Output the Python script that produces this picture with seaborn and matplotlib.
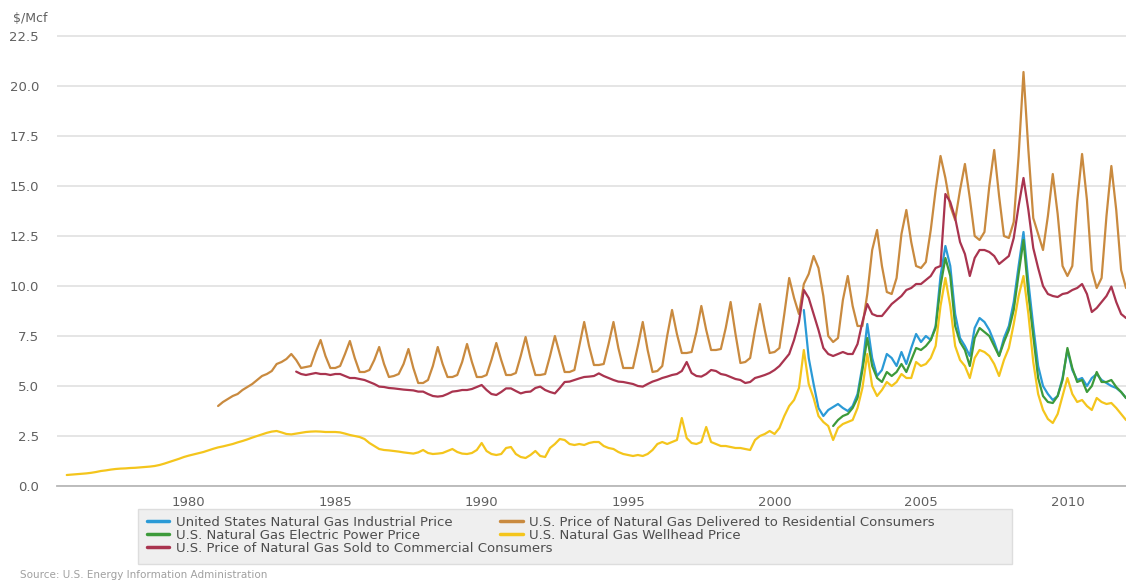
import numpy as np
import pandas as pd
import matplotlib
matplotlib.use("Agg")
import matplotlib.pyplot as plt
import seaborn as sns
from matplotlib.lines import Line2D
from matplotlib.patches import Rectangle

# prices in $/Mcf, one reading every two months (Jan, Mar, May, Jul, Sep, Nov)
industrial_start = 2001.0
industrial = [8.8, 6.4, 5.1, 3.9, 3.5, 3.8,
              3.95, 4.1, 3.9, 3.75, 4.0, 4.6,
              6.0, 8.1, 6.4, 5.5, 5.8, 6.6,
              6.4, 6.0, 6.7, 6.1, 6.9, 7.6,
              7.2, 7.5, 7.3, 8.0, 10.5, 12.0,
              11.0, 8.6, 7.4, 7.0, 6.5, 7.9,
              8.4, 8.2, 7.8, 7.2, 6.5, 7.4,
              8.0, 9.2, 11.0, 12.7, 10.2, 8.0,
              6.0, 5.0, 4.6, 4.3, 4.5, 5.4,
              6.8, 5.8, 5.3, 5.4, 5.0, 5.4,
              5.6, 5.3, 5.15, 5.0, 4.9, 4.7,
              4.4]

residential_start = 1981.0
residential = [4.0, 4.2, 4.35, 4.5, 4.6, 4.8,
               4.95, 5.1, 5.3, 5.5, 5.6, 5.75,
               6.1, 6.2, 6.35, 6.6, 6.3, 5.9,
               5.95, 6.0, 6.7, 7.3, 6.5, 5.9,
               5.9, 6.0, 6.6, 7.25, 6.4, 5.7,
               5.7, 5.8, 6.3, 6.95, 6.1, 5.45,
               5.5, 5.6, 6.1, 6.85, 5.9, 5.15,
               5.15, 5.3, 6.0, 6.95, 6.1, 5.45,
               5.45, 5.55, 6.2, 7.1, 6.2, 5.45,
               5.45, 5.55, 6.3, 7.15, 6.3, 5.55,
               5.55, 5.65, 6.5, 7.45, 6.4, 5.55,
               5.55, 5.6, 6.5, 7.5, 6.6, 5.7,
               5.7, 5.8, 7.0, 8.2, 7.0, 6.05,
               6.05, 6.1, 7.1, 8.2, 6.9, 5.9,
               5.9, 5.9, 7.0, 8.2, 6.8, 5.7,
               5.75, 6.0, 7.5, 8.8, 7.6, 6.65,
               6.65, 6.7, 7.7, 9.0, 7.8, 6.8,
               6.8, 6.85, 7.9, 9.2, 7.6, 6.15,
               6.2, 6.4, 7.8, 9.1, 7.8, 6.65,
               6.7, 6.9, 8.6, 10.4, 9.4, 8.6,
               10.1, 10.6, 11.5, 10.9, 9.5, 7.5,
               7.2, 7.4, 9.3, 10.5, 9.0, 8.0,
               8.0, 9.6, 11.8, 12.8, 11.0, 9.7,
               9.6, 10.4, 12.6, 13.8, 12.2, 11.0,
               10.9, 11.2, 12.8, 14.8, 16.5, 15.4,
               14.0, 13.3, 14.8, 16.1, 14.4, 12.5,
               12.3, 12.7, 15.0, 16.8, 14.5, 12.5,
               12.4, 13.2, 16.5, 20.7, 16.8, 13.4,
               12.6, 11.8, 13.5, 15.6, 13.6, 11.0,
               10.5, 11.0, 14.2, 16.6, 14.3, 10.8,
               9.9, 10.4, 13.5, 16.0, 13.8, 10.8,
               9.9]

electric_start = 2002.0
electric = [3.0, 3.3, 3.5, 3.6, 3.9, 4.4,
            5.8, 7.4, 6.0, 5.4, 5.2, 5.7,
            5.5, 5.7, 6.1, 5.7, 6.3, 6.9,
            6.8, 7.0, 7.3, 7.9, 10.0, 11.4,
            10.5, 8.0, 7.2, 6.8, 6.0, 7.4,
            7.9, 7.7, 7.5, 7.0, 6.5, 7.2,
            7.8, 8.8, 10.6, 12.3, 9.6, 7.5,
            5.4, 4.5, 4.2, 4.15, 4.5, 5.3,
            6.9, 5.9, 5.2, 5.3, 4.7, 5.0,
            5.7, 5.2, 5.2, 5.3, 4.95, 4.7,
            4.4]

wellhead_start = 1975 + 10 / 12
wellhead = [0.55,
            0.57, 0.59, 0.61, 0.63, 0.66, 0.7,
            0.75, 0.78, 0.82, 0.85, 0.87, 0.88,
            0.9, 0.91, 0.93, 0.95, 0.97, 1.0,
            1.05, 1.12, 1.2, 1.28, 1.36, 1.45,
            1.52, 1.58, 1.64, 1.7, 1.78, 1.86,
            1.93, 1.98, 2.04, 2.1, 2.18, 2.25,
            2.33, 2.42, 2.5, 2.58, 2.66, 2.72,
            2.75, 2.68, 2.6, 2.58, 2.62, 2.66,
            2.7, 2.72, 2.73, 2.72, 2.7, 2.7,
            2.7, 2.68, 2.62, 2.55, 2.5, 2.45,
            2.35, 2.15, 2.0, 1.85, 1.8, 1.78,
            1.75, 1.72, 1.68, 1.65, 1.62, 1.68,
            1.8, 1.65, 1.6, 1.62, 1.65, 1.75,
            1.85, 1.7, 1.62, 1.6, 1.65, 1.8,
            2.15, 1.75, 1.6, 1.55, 1.6, 1.9,
            1.95, 1.6, 1.45, 1.4, 1.55, 1.75,
            1.5, 1.45, 1.9, 2.1, 2.35, 2.3,
            2.1, 2.05, 2.1, 2.05, 2.15, 2.2,
            2.2, 2.0, 1.9, 1.85, 1.7, 1.6,
            1.55, 1.5, 1.55, 1.5, 1.6, 1.8,
            2.1, 2.2, 2.1, 2.2, 2.3, 3.4,
            2.4, 2.15, 2.1, 2.2, 2.95, 2.2,
            2.1, 2.0, 2.0, 1.95, 1.9, 1.9,
            1.85, 1.8, 2.3, 2.5, 2.6, 2.75,
            2.6, 2.9, 3.5, 4.0, 4.3, 4.9,
            6.8, 5.1, 4.4, 3.5, 3.2, 3.0,
            2.3, 2.9, 3.1, 3.2, 3.3, 3.9,
            4.9, 6.6, 5.0, 4.5, 4.8, 5.2,
            5.0, 5.2, 5.6, 5.4, 5.4, 6.2,
            6.0, 6.1, 6.4, 7.0, 9.0, 10.4,
            9.0, 7.0, 6.3, 6.0, 5.4, 6.4,
            6.8, 6.7, 6.5, 6.1, 5.5, 6.3,
            6.9, 8.1, 9.5, 10.5, 8.6, 6.2,
            4.6, 3.8, 3.35, 3.15, 3.6, 4.5,
            5.4, 4.6, 4.2, 4.3, 4.0, 3.8,
            4.4, 4.2, 4.1, 4.15, 3.9, 3.6,
            3.3]

commercial_start = 1983 + 8 / 12
commercial = [5.72, 5.6,
              5.55, 5.6, 5.65, 5.6, 5.6, 5.55,
              5.6, 5.6, 5.5, 5.4, 5.4, 5.35,
              5.3, 5.2, 5.1, 4.97, 4.95, 4.9,
              4.88, 4.85, 4.82, 4.8, 4.78, 4.72,
              4.72, 4.6, 4.5, 4.47, 4.5, 4.6,
              4.72, 4.75, 4.8, 4.8, 4.85, 4.95,
              5.05, 4.8, 4.6, 4.55, 4.7, 4.88,
              4.88, 4.75, 4.63, 4.7, 4.72, 4.9,
              4.97, 4.8, 4.7, 4.63, 4.9, 5.2,
              5.22, 5.3, 5.38, 5.45, 5.47, 5.5,
              5.63, 5.5, 5.4, 5.3, 5.22, 5.2,
              5.15, 5.1, 5.0, 4.97, 5.1, 5.22,
              5.3, 5.4, 5.47, 5.55, 5.6, 5.75,
              6.2, 5.65, 5.5, 5.47, 5.6, 5.8,
              5.75, 5.6, 5.55, 5.45, 5.35, 5.3,
              5.15, 5.2, 5.4, 5.47, 5.55, 5.65,
              5.8, 6.0, 6.3, 6.6, 7.3, 8.2,
              9.8, 9.4, 8.6, 7.8, 6.9, 6.6,
              6.5, 6.6, 6.7, 6.6, 6.6, 7.1,
              8.2, 9.1, 8.6, 8.5, 8.5, 8.8,
              9.1, 9.3, 9.5, 9.8, 9.9, 10.1,
              10.1, 10.3, 10.5, 10.9, 11.0, 14.6,
              14.2, 13.4, 12.2, 11.6, 10.5, 11.4,
              11.8, 11.8, 11.7, 11.5, 11.1, 11.3,
              11.5, 12.4, 14.0, 15.4, 13.8, 11.9,
              10.9, 10.0, 9.6, 9.5, 9.45, 9.6,
              9.65, 9.8, 9.9, 10.1, 9.6, 8.7,
              8.9, 9.2, 9.5, 9.97, 9.2, 8.6,
              8.4]

names = ["United States Natural Gas Industrial Price",
         "U.S. Price of Natural Gas Delivered to Residential Consumers",
         "U.S. Natural Gas Electric Power Price",
         "U.S. Natural Gas Wellhead Price",
         "U.S. Price of Natural Gas Sold to Commercial Consumers"]
colors = ["#2b9ad6", "#c98a3f", "#3d9a3a", "#f4c51c", "#a9344f"]

x_ticks = [1980, 1985, 1990, 1995, 2000, 2005, 2010]
y_ticks = [0, 2.5, 5, 7.5, 10, 12.5, 15, 17.5, 20, 22.5]


def frame(name, start, values):
    years = start + np.arange(len(values)) / 6
    return pd.DataFrame({"year": years, "price": values, "series": name})


df = pd.concat([frame(names[0], industrial_start, industrial),
                frame(names[1], residential_start, residential),
                frame(names[2], electric_start, electric),
                frame(names[3], wellhead_start, wellhead),
                frame(names[4], commercial_start, commercial)],
               ignore_index=True)

sns.set_style("white")
plt.rcParams["font.family"] = ["DejaVu Sans"]

fig = plt.figure(figsize=(11.26, 5.81), dpi=100)
ax = fig.add_axes([57 / 1126, 95 / 581, 1 - 57 / 1126, (486 - 34) / 581])

for name, color in zip(names, colors):
    sns.lineplot(data=df[df["series"] == name], x="year", y="price",
                 color=color, linewidth=1.6, ax=ax, legend=False,
                 estimator=None, sort=False)

ax.set_xlim(1975.5, 2012.0)
ax.set_ylim(0, 22.6)
ax.set_xticks(x_ticks)
ax.set_xticklabels([str(t) for t in x_ticks])
ax.set_yticks(y_ticks)
ax.set_yticklabels([f"{t:.1f}" for t in y_ticks])
ax.set_xlabel("")
ax.set_ylabel("")

ax.grid(axis="y", color="#e3e3e3", linewidth=1.3)
ax.grid(axis="x", visible=False)
ax.set_axisbelow(True)
for side in ["top", "right", "left"]:
    ax.spines[side].set_visible(False)
ax.spines["bottom"].set_color("#b8b8b8")
ax.spines["bottom"].set_linewidth(1.3)
ax.tick_params(axis="x", length=4, width=1, color="#b8b8b8",
               labelsize=9.5, labelcolor="#606060", pad=3)
ax.tick_params(axis="y", length=0, labelsize=9.5, labelcolor="#606060", pad=13)

fig.text(13 / 1126, 1 - 19 / 581, "$/Mcf", fontsize=9, color="#606060",
         va="center", ha="left")

# legend box
fig.add_artist(Rectangle((138 / 1126, 1 - 564 / 581), (1012 - 138) / 1126,
                         55 / 581, transform=fig.transFigure,
                         facecolor="#efefef", edgecolor="#dddddd",
                         linewidth=1, zorder=0))

handles = [Line2D([0], [0], color=c, linewidth=2.5) for c in colors]
leg_style = dict(frameon=False, fontsize=9.5, handlelength=1.7,
                 handletextpad=0.5, borderpad=0, borderaxespad=0,
                 labelspacing=0.0, labelcolor="#4d4d4d", loc="upper left")
fig.legend(handles=[handles[0], handles[2], handles[1], handles[3]],
           labels=[names[0], names[2], names[1], names[3]], ncol=2,
           columnspacing=3.6, bbox_to_anchor=(147 / 1126, 1 - 516 / 581),
           **leg_style)
fig.legend(handles=[handles[4]], labels=[names[4]],
           bbox_to_anchor=(147 / 1126, 1 - 542 / 581), **leg_style)

fig.text(20 / 1126, 1 - 575 / 581,
         "Source: U.S. Energy Information Administration",
         fontsize=7.5, color="#a0a0a0", va="center", ha="left")

fig.savefig("out.png", dpi=100)
